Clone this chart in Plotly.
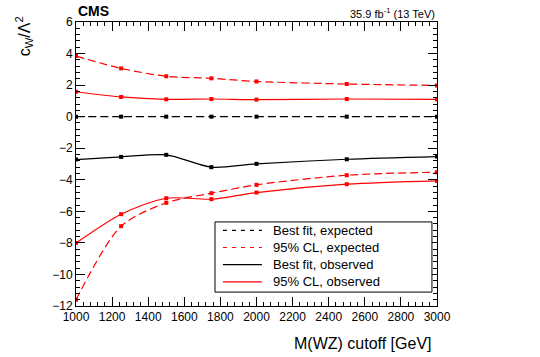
import plotly.graph_objects as go

cutoff = [1000, 1250, 1500, 1750, 2000, 2500, 3000]
best_exp = [0, 0, 0, 0, 0, 0, 0]
cl95_exp_up = [3.84, 3.06, 2.56, 2.43, 2.23, 2.07, 1.98]
cl95_exp_lo = [-11.6, -6.94, -5.46, -4.85, -4.32, -3.71, -3.52]
best_obs = [-2.72, -2.55, -2.42, -3.2, -2.99, -2.7, -2.53]
cl95_obs_up = [1.58, 1.25, 1.10, 1.12, 1.08, 1.12, 1.10]
cl95_obs_lo = [-8.01, -6.18, -5.17, -5.23, -4.81, -4.28, -4.07]
legend_names = ["Best fit, expected", "95% CL, expected", "Best fit, observed", "95% CL, observed"]

FONT = "Liberation Sans, Arial, Helvetica, sans-serif"
RED = "#ff0000"
DASH = "8px,4px"

fig = go.Figure()

def add(y, color, dash):
    fig.add_trace(go.Scatter(
        x=cutoff, y=y, mode="lines+markers",
        line=dict(color=color, width=1.2, dash=dash, shape="spline", smoothing=0.8),
        marker=dict(symbol="square", size=4, color=color),
        showlegend=False, hoverinfo="skip",
    ))

add(best_exp, "black", DASH)
add(cl95_exp_up, RED, DASH)
add(cl95_exp_lo, RED, DASH)
add(best_obs, "black", "solid")
add(cl95_obs_up, RED, "solid")
add(cl95_obs_lo, RED, "solid")

axis_common = dict(
    showline=True, linecolor="black", linewidth=1, mirror="ticks",
    ticks="inside", ticklen=9, tickcolor="black", tickwidth=1,
    showgrid=False, zeroline=False, automargin=False,
    tickfont=dict(family=FONT, size=12, color="black"),
)

fig.update_xaxes(range=[1000, 3000], dtick=200, tick0=1000,
                 minor=dict(ticks="inside", ticklen=4, dtick=40, tickcolor="black", showgrid=False),
                 **axis_common)
fig.update_yaxes(range=[-12, 6], dtick=2, tick0=0,
                 minor=dict(ticks="inside", ticklen=4, dtick=0.4, tickcolor="black", showgrid=False),
                 **axis_common)

# Legend box (ROOT style), built as layout shapes + text
lx0, lx1, ly0, ly1 = 0.385, 0.986, 0.049, 0.296
entry_y = [0.266, 0.206, 0.146, 0.085]
entry_style = [("black", "4px,5px"), (RED, "4px,5px"), ("black", "solid"), (RED, "solid")]
shapes = [dict(type="rect", xref="paper", yref="paper", x0=lx0, x1=lx1, y0=ly0, y1=ly1,
               line=dict(color="black", width=1), fillcolor="white", layer="above")]
annotations = []
for name, yy, (col, dash) in zip(legend_names, entry_y, entry_style):
    shapes.append(dict(type="line", xref="paper", yref="paper", x0=0.407, x1=0.515, y0=yy, y1=yy,
                       line=dict(color=col, width=1.2, dash=dash), layer="above"))
    annotations.append(dict(text=name, x=0.540, y=yy, xref="paper", yref="paper",
                            xanchor="left", yanchor="middle", showarrow=False,
                            font=dict(family=FONT, size=13, color="black")))

annotations += [
    dict(text="<b>CMS</b>", x=0, y=1.0, xref="paper", yref="paper",
         xanchor="left", yanchor="bottom", showarrow=False, yshift=1,
         font=dict(family=FONT, size=14, color="black")),
    dict(text="35.9 fb<sup>-1</sup> (13 TeV)", x=1, y=1.0, xref="paper", yref="paper",
         xanchor="right", yanchor="bottom", showarrow=False, yshift=0,
         font=dict(family=FONT, size=11, color="black")),
    dict(text="M(WZ) cutoff [GeV]", x=1, y=-0.095, xref="paper", yref="paper",
         xanchor="right", yanchor="top", showarrow=False, xshift=-3,
         font=dict(family=FONT, size=16, color="black")),
    dict(text="c<sub>W</sub>/Λ<sup>2</sup>", x=-0.144, y=0.95, xref="paper", yref="paper",
         xanchor="center", yanchor="middle", showarrow=False, textangle=-90,
         font=dict(family=FONT, size=16, color="black")),
]

fig.update_layout(
    width=540, height=357,
    margin=dict(l=76, r=103, t=22, b=51),
    paper_bgcolor="white", plot_bgcolor="white",
    font=dict(family=FONT, size=12, color="black"),
    showlegend=False,
    hovermode=False,
    shapes=shapes,
    annotations=annotations,
)

# remove the default 8px page margin so the figure fills the window exactly
fig.write_html("out.html", config={"displayModeBar": False},
               post_script="document.body.style.margin='0';document.body.style.overflow='hidden';")
